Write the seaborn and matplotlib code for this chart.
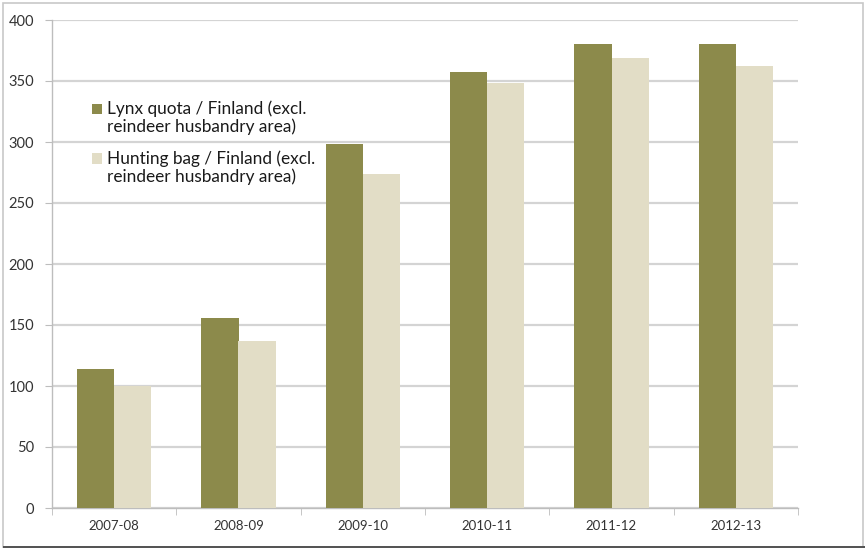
import matplotlib
matplotlib.use("Agg")
import matplotlib.pyplot as plt
import seaborn as sns
import pandas as pd
from matplotlib.patches import Rectangle
from matplotlib.ticker import FixedLocator
from matplotlib.legend_handler import HandlerPatch

seasons = ["2007-08", "2008-09", "2009-10", "2010-11", "2011-12", "2012-13"]
lynx_quota = [114, 156, 298, 357, 380, 380]
hunting_bag = [100, 137, 274, 348, 369, 362]
series_names = ["Lynx quota / Finland (excl.\nreindeer husbandry area)",
                "Hunting bag / Finland (excl.\nreindeer husbandry area)"]
y_ticks = [0, 50, 100, 150, 200, 250, 300, 350, 400]

df = pd.DataFrame({
    "season": seasons * 2,
    "value": lynx_quota + hunting_bag,
    "series": [series_names[0]] * len(seasons) + [series_names[1]] * len(seasons),
})

sns.set_style("white")
plt.rcParams["font.family"] = ["Lato", "DejaVu Sans"]

fig = plt.figure(figsize=(8.65, 5.5), dpi=100)
ax = fig.add_axes([52/865, 1-508/550, (798-52)/865, (508-20)/550])

palette = {series_names[0]: "#8c8a4b", series_names[1]: "#e2ddc6"}
sns.barplot(data=df, x="season", y="value", hue="series", palette=palette,
            width=0.6, saturation=1, ax=ax, zorder=3, linewidth=0)

ax.set_ylim(0, 400)
ax.set_xlim(-0.5, 5.5)
ax.set_yticks(y_ticks)
ax.yaxis.grid(True, color="#d4d4d4", linewidth=1.6, zorder=0)
ax.set_axisbelow(True)
ax.set_xlabel("")
ax.set_ylabel("")

for s in ["top", "right"]:
    ax.spines[s].set_visible(False)
for s in ["left", "bottom"]:
    ax.spines[s].set_color("#bdbdbd")
    ax.spines[s].set_linewidth(1.0)

ax.tick_params(axis="y", which="major", length=5, color="#bdbdbd", labelsize=10.5,
               labelcolor="#333333", pad=8, left=True)
ax.tick_params(axis="x", which="major", length=0, labelsize=9.5, labelcolor="#333333", pad=9)
ax.xaxis.set_minor_locator(FixedLocator([i - 0.5 for i in range(len(seasons) + 1)]))
ax.tick_params(axis="x", which="minor", length=5, color="#bdbdbd", bottom=True)


def top_square(legend, orig_handle, xdescent, ydescent, width, height, fontsize):
    return Rectangle((-xdescent, -ydescent + 0.55 * fontsize), width, height)


handles, labels = ax.get_legend_handles_labels()
leg = ax.legend(handles, labels, loc="upper left", bbox_to_anchor=(0.045, 0.849),
                frameon=False, fontsize=12.4, handlelength=0.58, handleheight=0.58,
                handletextpad=0.24, labelspacing=0.85, borderaxespad=0,
                handler_map={h: HandlerPatch(patch_func=top_square) for h in handles})
for t in leg.get_texts():
    t.set_linespacing(1.12)
    t.set_color("#1a1a1a")

# figure frame
fig.patches.append(Rectangle((0.004, 0.005), 0.994, 0.99, transform=fig.transFigure,
                             fill=False, edgecolor="#c8c8c8", linewidth=1.2))
fig.patches.append(Rectangle((0.004, 0.003), 0.996, 0.004, transform=fig.transFigure,
                             fill=True, facecolor="#555555", edgecolor="none"))

fig.savefig("out.png", dpi=100)
